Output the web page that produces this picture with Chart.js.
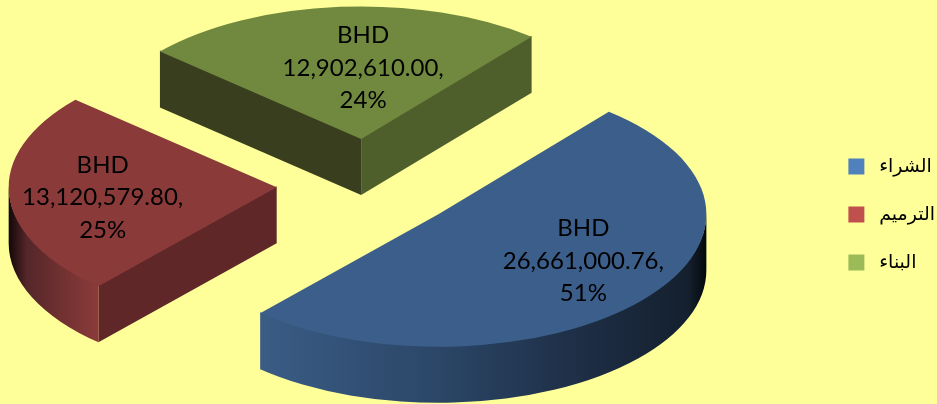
<!DOCTYPE html>
<html>
<head>
<meta charset="utf-8">
<style>
  html, body { margin: 0; padding: 0; background: #FFFF99; overflow: hidden; }
  canvas { display: block; }
</style>
<script src="https://cdn.jsdelivr.net/npm/chart.js@4/dist/chart.umd.min.js"></script>
</head>
<body>
<canvas id="costChart" width="937" height="404"></canvas>
<script>
// chart data
var categories = ["الشراء", "الترميم", "البناء"];
var amounts = [26661000.76, 13120579.80, 12902610.00];
var currency = "BHD";

// colours
var legendColors = ["#4F81BD", "#C0504D", "#9BBB59"];
var topColors = ["#3B5F8A", "#8B3A3A", "#71893F"];
var startWallColors = [null, "#5F2727", "#393F1E"];
var endWallColors = [null, null, "#4F5F2C"];
var rimStops = [
	[[0, "#3A5C85"], [0.4, "#2B4667"], [0.75, "#1C2C42"], [0.96, "#14202E"], [1, "#04080C"]],
	[[0, "#120808"], [0.2, "#54262A"], [0.55, "#6E3030"], [1, "#8B3A3A"]],
	null
];

// 3d pie settings
var pieX = 368.5, pieY = 184.5, pieRadius = 268;
var tilt = 0.495, depth = 56, explode = 92;
var labelOffsets = [[145, 47], [-174, 10], [2, -71]];
var labelLine = 32.5;

function formatAmount(v) {
	return v.toLocaleString("en-US", {minimumFractionDigits: 2, maximumFractionDigits: 2});
}

var pie3d = {
	id: "pie3d",
	beforeDatasetsDraw: function(chart) {
		var ctx = chart.ctx;
		var arcs = chart.getDatasetMeta(0).data;
		for (var i = arcs.length - 1; i >= 0; i--) {
			var arc = arcs[i];
			var r = arc.outerRadius;
			var mid = (arc.startAngle + arc.endAngle) / 2;
			var ax = pieX + Math.cos(mid) * explode;
			var ay = pieY + Math.sin(mid) * explode * tilt;

			// flat side walls, started 1px high so no seam shows under the top face
			if (startWallColors[i]) sideWall(ctx, ax, ay - 1, r, arc.startAngle, startWallColors[i]);
			if (endWallColors[i]) sideWall(ctx, ax, ay - 1, r, arc.endAngle, endWallColors[i]);

			// curved rim, only the part facing the viewer
			var a0 = Math.max(arc.startAngle, 0);
			var a1 = Math.min(arc.endAngle, Math.PI);
			if (a1 > a0 && rimStops[i]) {
				var x0 = ax + r * Math.cos(a1);
				var x1 = a0 <= 0 ? ax + r : ax + r * Math.cos(a0);
				var grad = ctx.createLinearGradient(x0, 0, x1, 0);
				rimStops[i].forEach(function(s) { grad.addColorStop(s[0], s[1]); });
				ctx.beginPath();
				ctx.ellipse(ax, ay - 1, r, r * tilt, 0, a0, a1);
				ctx.ellipse(ax, ay + depth, r, r * tilt, 0, a1, a0, true);
				ctx.closePath();
				ctx.fillStyle = grad;
				ctx.fill();
			}

			// top face is the library's own arc, squashed and moved out
			ctx.save();
			ctx.translate(ax, ay);
			ctx.scale(1, tilt);
			ctx.translate(-arc.x, -arc.y);
			arc.draw(ctx);
			ctx.restore();

			// label
			var total = amounts.reduce(function(a, b) { return a + b; }, 0);
			var lines = [currency, formatAmount(amounts[i]) + ",", Math.round(amounts[i] / total * 100) + "%"];
			ctx.save();
			ctx.fillStyle = "#000";
			ctx.font = "24px Lato";
			ctx.textAlign = "center";
			ctx.textBaseline = "middle";
			for (var n = 0; n < lines.length; n++) {
				ctx.fillText(lines[n], ax + labelOffsets[i][0], ay + labelOffsets[i][1] + (n - 1) * labelLine);
			}
			ctx.restore();
		}
		return false;
	}
};

function sideWall(ctx, ax, ay, r, angle, color) {
	var ex = ax + r * Math.cos(angle);
	var ey = ay + r * tilt * Math.sin(angle);
	ctx.beginPath();
	ctx.moveTo(ax, ay);
	ctx.lineTo(ex, ey);
	ctx.lineTo(ex, ey + depth + 1);
	ctx.lineTo(ax, ay + depth + 1);
	ctx.closePath();
	ctx.fillStyle = color;
	ctx.fill();
}

new Chart(document.getElementById("costChart"), {
	type: "pie",
	data: {
		labels: categories,
		datasets: [{
			data: amounts,
			backgroundColor: topColors,
			borderWidth: 0
		}]
	},
	options: {
		responsive: false,
		animation: false,
		radius: pieRadius,
		rotation: 39.5,
		layout: {padding: {top: 25, right: -8}},
		plugins: {
			tooltip: {enabled: false},
			legend: {
				position: "right",
				labels: {
					boxWidth: 16,
					boxHeight: 16,
					padding: 29,
					color: "#000",
					font: {family: "'Liberation Sans', 'DejaVu Sans'", size: 19},
					generateLabels: function() {
						return categories.map(function(name, i) {
							// the nbsp widens the gap between marker and text
							return {text: "\u00A0" + name, fillStyle: legendColors[i], strokeStyle: legendColors[i], lineWidth: 0, index: i};
						});
					}
				}
			}
		}
	},
	plugins: [pie3d]
});
</script>
</body>
</html>
